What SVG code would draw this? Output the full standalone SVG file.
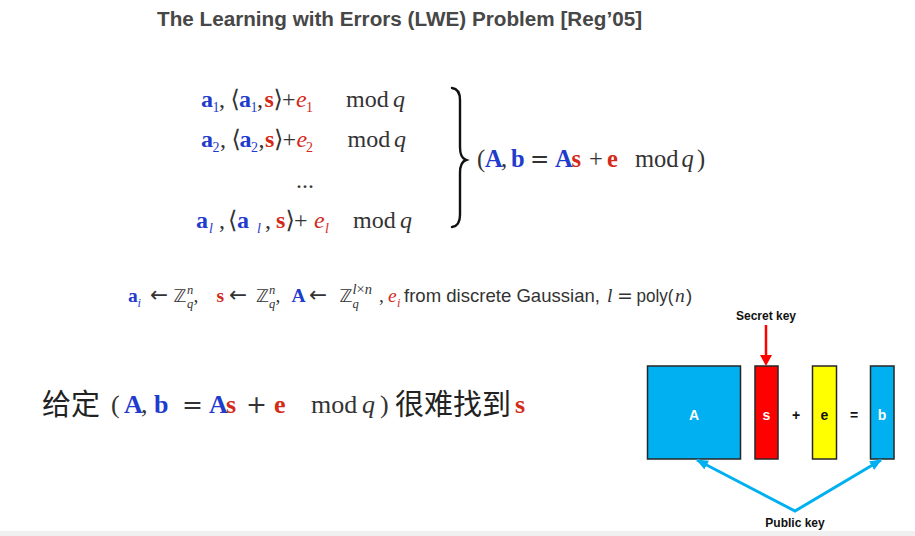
<svg xmlns="http://www.w3.org/2000/svg" width="915" height="536" viewBox="0 0 915 536">
<style>
.t{font-family:"Liberation Sans",Arial,sans-serif;font-weight:bold;font-size:20.7px;fill:#474747}
.m{font-family:"Liberation Serif","DejaVu Serif",serif;font-size:24px;fill:#333}
.m2{font-family:"Liberation Serif","DejaVu Serif",serif;font-size:24.5px;fill:#333}
.m3{font-family:"Liberation Serif","DejaVu Serif",serif;font-size:26px;fill:#333}
.f{font-family:"Liberation Serif","DejaVu Serif",serif;font-size:19.5px;fill:#333}
.sans{font-family:"Liberation Sans",Arial,sans-serif;font-size:18.6px;fill:#333}
.sym{font-family:"DejaVu Sans",sans-serif}
.cjk{font-family:"Noto Sans CJK SC","Noto Sans CJK TC",sans-serif;font-size:29px;fill:#222}
.bb{font-weight:bold;fill:#1f3ccc}
.br{font-weight:bold;fill:#d42a1a}
.ir{font-style:italic;fill:#d42a1a}
.i{font-style:italic}
.blue{fill:#1f3ccc}
.red{fill:#d42a1a}
.sub{font-size:14px}
.sm{font-size:12.5px}
.box{stroke:#262626;stroke-width:1.5}
.lbl{font-family:"Liberation Sans",Arial,sans-serif;font-weight:bold;font-size:14px;text-anchor:middle}
.key{font-family:"Liberation Sans",Arial,sans-serif;font-weight:bold;font-size:12px;text-anchor:middle;fill:#111}
</style>
<defs>
<marker id="bh" viewBox="0 0 12 10" refX="11" refY="5" markerWidth="12" markerHeight="10" markerUnits="userSpaceOnUse" orient="auto-start-reverse">
<path d="M0,0 L12,5 L0,10 Z" fill="#00b0f0"/>
</marker>
</defs>
<rect x="0" y="0" width="915" height="536" fill="#ffffff"/>
<rect x="0" y="531" width="915" height="5" fill="#f0f0f0"/>

<text class="t" x="157" y="26">The Learning with Errors (LWE) Problem [Reg’05]</text>

<g id="samples">
<text class="m"><tspan class="bb" x="201" y="107">a</tspan><tspan class="sub blue" x="212.5" y="112">1</tspan><tspan x="219" y="107">,</tspan><tspan x="230.5" y="107">⟨</tspan><tspan class="bb" x="239" y="107">a</tspan><tspan class="sub blue" x="250.5" y="112">1</tspan><tspan x="257" y="107">,</tspan><tspan class="br" x="264.5" y="107">s</tspan><tspan x="273.5" y="107">⟩</tspan><tspan x="282" y="107">+</tspan><tspan class="ir" x="296" y="107">e</tspan><tspan class="sub red" x="306" y="112">1</tspan><tspan x="346" y="107">mod</tspan><tspan class="i" x="393" y="107">q</tspan></text>
<text class="m"><tspan class="bb" x="201" y="147">a</tspan><tspan class="sub blue" x="212.5" y="152">2</tspan><tspan x="220" y="147">,</tspan><tspan x="231.5" y="147">⟨</tspan><tspan class="bb" x="239.5" y="147">a</tspan><tspan class="sub blue" x="251" y="152">2</tspan><tspan x="258.5" y="147">,</tspan><tspan class="br" x="265" y="147">s</tspan><tspan x="274" y="147">⟩</tspan><tspan x="282.5" y="147">+</tspan><tspan class="ir" x="296.5" y="147">e</tspan><tspan class="sub red" x="306" y="152">2</tspan><tspan x="347.5" y="147">mod</tspan><tspan class="i" x="394" y="147">q</tspan></text>
<text class="m" x="296" y="188">...</text>
<text class="m"><tspan class="bb" x="196" y="228">a</tspan><tspan class="sub blue i" x="209" y="233">l</tspan><tspan x="219" y="228">,</tspan><tspan x="228" y="228">⟨</tspan><tspan class="bb" x="237" y="228">a</tspan><tspan class="sub blue i" x="257" y="233">l</tspan><tspan x="265" y="228">,</tspan><tspan class="br" x="276" y="228">s</tspan><tspan x="285.5" y="228">⟩</tspan><tspan x="294" y="228">+</tspan><tspan class="ir" x="314" y="228">e</tspan><tspan class="sub red i" x="325" y="233">l</tspan><tspan x="353" y="228">mod</tspan><tspan class="i" x="400" y="228">q</tspan></text>
</g>

<path id="brace" d="M452,88 Q460,89 460,100 L460,147 Q460,158 466,160 Q460,162 460,173 L460,215 Q460,226 452,227" fill="none" stroke="#111" stroke-width="2.4" stroke-linecap="round"/>

<text class="m2"><tspan x="477" y="167">(</tspan><tspan class="bb" x="485" y="167">A</tspan><tspan x="501" y="167">,</tspan><tspan class="bb" x="511" y="167">b</tspan><tspan class="sym" x="530" y="167" font-size="23">=</tspan><tspan class="bb" x="555" y="167">A</tspan><tspan class="br" x="571.5" y="167">s</tspan><tspan x="589" y="167">+</tspan><tspan class="br" x="607" y="167">e</tspan><tspan x="635" y="167">mod</tspan><tspan class="i" x="681.5" y="167">q</tspan><tspan x="697" y="167">)</tspan></text>

<g id="domains">
<text class="f"><tspan class="bb" x="128" y="302">a</tspan><tspan class="sm blue i" x="137.5" y="307">i</tspan><tspan class="sym" x="150" y="302" font-size="21.5">←</tspan><tspan class="sym" x="173.5" y="302" font-size="17.5">ℤ</tspan><tspan class="sm i" x="187" y="294">n</tspan><tspan class="sm i" x="187" y="308">q</tspan><tspan x="193.5" y="302">,</tspan><tspan class="br" x="216.5" y="302">s</tspan><tspan class="sym" x="229" y="302" font-size="21.5">←</tspan><tspan class="sym" x="256" y="302" font-size="17.5">ℤ</tspan><tspan class="sm i" x="269" y="294">n</tspan><tspan class="sm i" x="269" y="308">q</tspan><tspan x="275.5" y="302">,</tspan><tspan class="bb" x="291.5" y="302">A</tspan><tspan class="sym" x="309" y="302" font-size="21.5">←</tspan><tspan class="sym" x="339.5" y="302" font-size="17.5">ℤ</tspan><tspan x="352.5" y="294" font-size="14.5"><tspan class="i">l</tspan>×<tspan class="i">n</tspan></tspan><tspan class="sm i" x="352.5" y="308">q</tspan><tspan x="379" y="302">,</tspan><tspan class="ir" x="388" y="302">e</tspan><tspan class="sm red i" x="397" y="307">i</tspan></text>
<text class="sans" x="404" y="302" textLength="196" lengthAdjust="spacingAndGlyphs">from discrete Gaussian,</text>
<text class="f"><tspan class="i" x="607" y="302">l</tspan><tspan class="sym" x="617" y="302" font-size="19">=</tspan></text>
<text class="sans" x="636.5" y="302" textLength="37" lengthAdjust="spacingAndGlyphs">poly(</text>
<text class="f i" x="675" y="302">n</text>
<text class="sans" x="686" y="302">)</text>
</g>

<g id="statement">
<text class="cjk" x="42" y="415">给定</text>
<text class="m3"><tspan x="111" y="413">(</tspan><tspan class="bb" x="124" y="413">A</tspan><tspan x="141" y="413">,</tspan><tspan class="bb" x="154" y="413">b</tspan><tspan class="sym" x="182" y="413" font-size="25">=</tspan><tspan class="bb" x="209" y="413">A</tspan><tspan class="br" x="226" y="413">s</tspan><tspan class="sym" x="246" y="413" font-size="25">+</tspan><tspan class="br" x="274" y="413">e</tspan><tspan x="311" y="413">mod</tspan><tspan class="i" x="362" y="413">q</tspan><tspan x="380" y="413">)</tspan></text>
<text class="cjk" x="395" y="415">很难找到</text>
<text class="m3 br" x="515" y="413" font-size="30">s</text>
</g>

<g id="matrix-A">
<rect class="box" x="647.5" y="366" width="93" height="93" fill="#00b0f0"/>
<text class="lbl" x="694" y="420" fill="#ffffff">A</text>
</g>
<g id="vector-s">
<rect class="box" x="755" y="366" width="23" height="93" fill="#ff0000"/>
<text class="lbl" x="766.5" y="420" fill="#ffffff">s</text>
</g>
<text class="lbl" x="796" y="420" fill="#111">+</text>
<g id="vector-e">
<rect class="box" x="812.5" y="366" width="24" height="93" fill="#ffff00"/>
<text class="lbl" x="824.5" y="420" fill="#111">e</text>
</g>
<text class="lbl" x="854" y="420" fill="#111">=</text>
<g id="vector-b">
<rect class="box" x="870.5" y="366" width="23.5" height="93" fill="#00b0f0"/>
<text class="lbl" x="882" y="420" fill="#ffffff">b</text>
</g>
<g id="secret-key">
<text class="key" x="766" y="320">Secret key</text>
</g>
<g id="public-key">
<text class="key" x="795" y="527">Public key</text>
</g>

<g id="connectors">
<line x1="766" y1="325" x2="766" y2="357" stroke="#ff0000" stroke-width="2.5"/>
<path d="M760,355 L772,355 L766,366 Z" fill="#ff0000"/>
<polyline points="697,460 795,511 881,460" fill="none" stroke="#00b0f0" stroke-width="3" marker-start="url(#bh)" marker-end="url(#bh)"/>
</g>
</svg>
